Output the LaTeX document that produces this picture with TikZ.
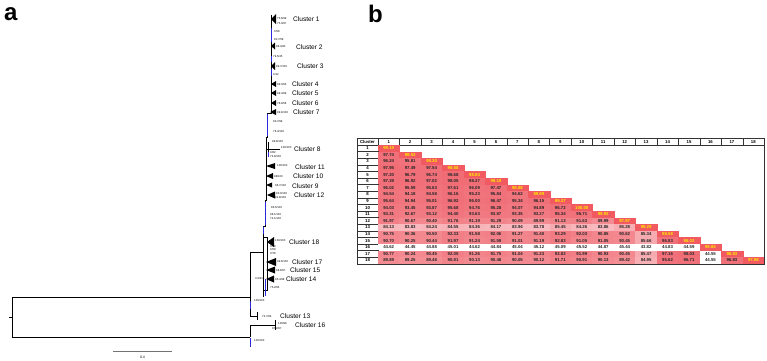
\documentclass[tikz,border=0pt]{standalone}
\usepackage{fontspec}
\setmainfont{Liberation Sans}
\usetikzlibrary{positioning}
\definecolor{HeatRed}{HTML}{F06C75}
\definecolor{DiagRed}{HTML}{F05A60}
\definecolor{DiagText}{HTML}{FFEB00}
\definecolor{TipBlue}{HTML}{2A2ADC}

\begin{document}
\begin{tikzpicture}[x=1pt,y=-1pt,
    branch/.style={line width=0.9pt,black},
    refbranch/.style={line width=0.9pt,TipBlue},
    clname/.style={anchor=west,inner sep=0pt,font=\fontsize{6.6}{7}\selectfont},
    boot/.style={anchor=west,inner sep=0pt,font=\fontsize{2.8}{3}\selectfont},
    hcell/.style={draw=black!80,line width=0.3pt,inner sep=0pt,minimum height=6.5pt,font=\fontsize{4.3}{4.5}\selectfont\bfseries},
    vcell/.style={inner sep=0pt,line width=0.2pt,minimum width=21.45pt,minimum height=6.6pt,font=\fontsize{4.3}{4.5}\selectfont\bfseries},
    panel/.style={anchor=north west,inner sep=0pt,font=\fontsize{24}{24}\selectfont\bfseries}]
  \useasboundingbox (0,0) rectangle (767,360);

  % panel labels
  \node[panel] (pa) at (4,7) {a};
  \node[panel] (pb) at (368,5) {b};

  % tree: root and deep branches
  \draw[branch] (9,317) -- (12,317);
  \draw[branch] (250,297) -- (12,297) -- (12,337) -- (250,337);
  \draw[branch] (263,252) -- (250,252) -- (250,316) -- (257,316);
  \draw[branch] (257,312) -- (257,320);
  \draw[branch] (250,337) -- (250,325) -- (275,325);
  \draw[branch] (275,320) -- (275,330);
  \draw[refbranch] (250,301) -- (250,309);
  \draw[refbranch] (250,338) -- (250,347);

  % tree: spine of the main clade
  \draw[branch] (271,15) -- (271,113) -- (267,113) -- (267,137) -- (266,137) -- (266,200) -- (265,200) -- (265,226) -- (263,226) -- (263,297);
  \draw[branch] (263,237) -- (267,237) -- (267,290) -- (263,290);
  \draw[branch] (268,142) -- (268,157);
  \draw[branch] (266,149) -- (280,149);
  \draw[refbranch] (271,28) -- (271,42);
  \draw[refbranch] (271,56) -- (271,62);
  \draw[refbranch] (271,69) -- (271,76);
  \draw[refbranch] (267,114) -- (267,136);
  \draw[refbranch] (268,152) -- (268,157);
  \draw[refbranch] (265,202) -- (265,225);
  \draw[refbranch] (263,227) -- (263,234);
  \draw[refbranch] (265,279) -- (265,296);

  % collapsed clades
  \foreach \py/\xl/\xr/\hh in {19/271/276/5, 46/271/275/3.5, 66/271/275/4, 84/271/276/3,
      93/271/276/3, 103/271/276/3, 112/270/276/3, 166/266/275/3, 176/266/273/3,
      185/266/272/2.5, 195/267/275/3.5, 242/267/274/5, 262/266/276/4, 270/266/275/3.5,
      279/266/274/3.5}
    \fill (\xl,\py) -- (\xr,{\py-\hh}) -- (\xr,{\py+\hh}) -- cycle;

  % support values
  \foreach \px/\py/\bs in {277/18/{75.6/99}, 277/23/{75.3/97}, 274/31/{0/58}, 274/39/{80.7/58},
      276/46.5/{98.4/90}, 273/56/{79.5/45}, 276/66/{99.7/100}, 273/74/{0/12},
      277/84/{99.3/93}, 277/93/{99.4/99}, 277/103/{78.9/58}, 277/112/{99.9/100},
      273/121/{93.7/99}, 273/131/{76.4/100}, 272/141/{99.8/100}, 281/147/{100/100},
      270/152/{0/62}, 270/156/{74.8/100}, 277/165/{100/100}, 274/176/{99/100},
      275/185/{96.7/100}, 276/193/{93.0/100}, 275/197/{91.8/100}, 271/207/{86.5/100},
      270/214/{98.1/100}, 270/218/{74.1/100}, 275/240/{100/100}, 270/246/{0/18},
      270/249.5/{0/58}, 270/253/{0/78}, 277/261/{99.6/100}, 276/270/{98.6/97},
      275/279/{95.4/98}, 255/278/{3.6/31}, 270/287/{75.2/95}, 254/300/{100/100},
      262/316/{74.7/93}, 278/323/{100/99}, 272/328/{97.2/97}, 254/340/{100/100}}
    \node[boot] at (\px,\py) {\bs};

  % cluster names
  \foreach \k/\px/\py in {1/293/19, 2/296/47, 3/297/66, 4/292/84, 5/292/93, 6/292/103,
      7/293/112, 8/294/149, 11/295/167, 10/293/176, 9/292/186, 12/294/195,
      18/289/242, 17/292/262, 15/290/270, 14/286/279, 13/280/316, 16/295/325}
    \node[clname] (cl\k) at (\px,\py) {Cluster \k};

  % scale bar
  \draw[black!55,line width=0.7pt] (113,351) -- (172,351);
  \node[inner sep=0pt,font=\fontsize{3.5}{4}\selectfont] (sc) at (142.5,357) {0.4};

  % panel b: identity table
  \node[hcell,minimum width=21pt] (hc) at (367.5,141.75) {Cluster};
  \foreach \j in {1,...,18}
    \node[hcell,minimum width=21.45pt] (h\j) at ({378+(\j-0.5)*21.45},141.75) {\j};
  \foreach \i/\vals in {
      1/{99.19},
      2/{97.74,99.53},
      3/{96.24,95.81,99.30},
      4/{97.95,97.49,97.54,98.88},
      5/{97.20,96.79,96.74,98.68,98.84},
      6/{97.39,96.92,97.02,98.05,98.27,99.19},
      7/{96.02,95.59,95.63,97.61,96.09,97.47,98.88},
      8/{94.54,94.18,94.58,96.16,95.23,95.84,94.62,99.99},
      9/{95.64,94.94,95.01,96.92,96.00,96.47,95.34,96.15,99.37},
      10/{94.03,93.45,93.87,95.68,94.76,95.28,94.07,94.89,96.72,100.00},
      11/{93.31,92.67,93.12,94.40,93.63,93.87,93.35,93.27,95.34,95.71,99.93},
      12/{91.97,90.67,90.40,91.76,91.19,91.29,90.09,89.99,91.13,91.63,89.99,97.97},
      13/{84.13,83.83,84.24,84.55,84.36,84.17,83.94,83.78,85.45,84.26,83.86,85.28,99.29},
      14/{90.75,90.36,90.50,92.33,91.58,92.06,91.27,91.40,93.29,92.03,90.85,90.62,85.34,98.58},
      15/{90.70,90.25,90.44,91.97,91.24,91.59,91.01,91.19,92.83,91.05,91.05,90.45,85.66,96.83,98.03},
      16/{44.62,44.45,44.88,45.01,44.62,44.84,45.04,45.12,45.09,45.52,44.87,45.44,43.82,44.83,44.59,99.65},
      17/{90.77,90.24,90.45,92.05,91.26,91.75,91.04,91.23,92.82,91.99,90.93,90.45,85.47,97.16,98.03,44.55,98.83},
      18/{89.89,89.25,89.48,90.81,90.13,90.48,90.05,90.12,91.71,90.91,90.13,89.42,84.95,95.62,96.71,44.55,96.83,97.98}}{
    \node[hcell,minimum width=21pt,minimum height=6.6pt] (r\i) at (367.5,{145+(\i-0.5)*6.6}) {\i};
    \foreach \v [count=\j] in \vals {
      \pgfmathtruncatemacro\p{max(0,min(100,100-0.2*(100-\v)^2))}
      \ifnum\j=\i
        \node[vcell,fill=DiagRed,draw=DiagRed,text=DiagText] (v\i-\j) at ({378+(\j-0.5)*21.45},{145+(\i-0.5)*6.6}) {\v};
      \else
        \node[vcell,fill=HeatRed!\p!white,draw=HeatRed!\p!white,text=black!85] (v\i-\j) at ({378+(\j-0.5)*21.45},{145+(\i-0.5)*6.6}) {\v};
      \fi
    }
  }
  \draw[black!80,line width=0.4pt] (357,138.5) rectangle (764.1,263.8);
\end{tikzpicture}
\end{document}
